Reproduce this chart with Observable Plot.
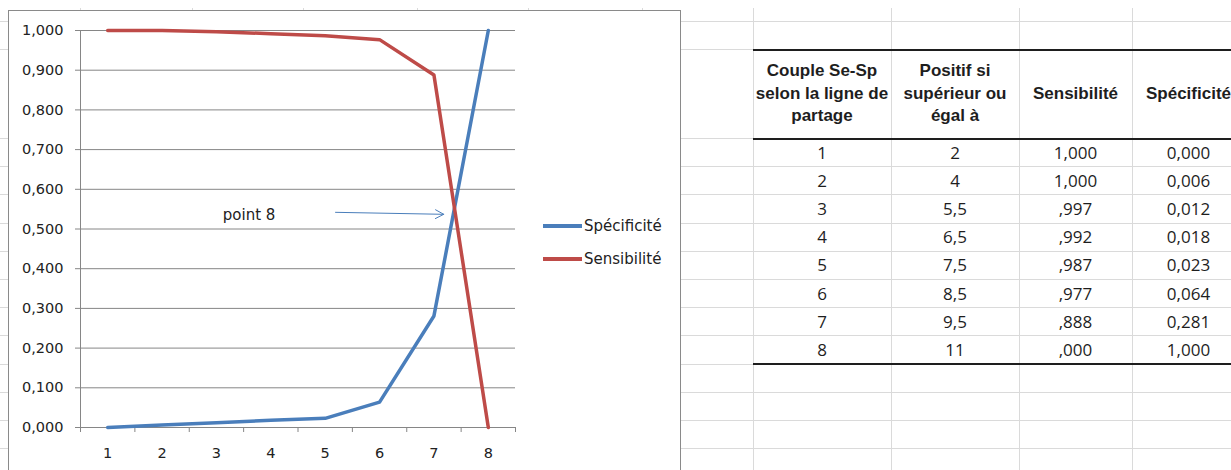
<!DOCTYPE html>
<html><head><meta charset="utf-8">
<script src="https://cdn.jsdelivr.net/npm/d3@7"></script>
<script src="https://cdn.jsdelivr.net/npm/@observablehq/plot@0.6"></script>
<style>
html,body{margin:0;padding:0;background:#fff;}
#root{position:relative;width:1231px;height:470px;overflow:hidden;background:#fff;}
.vl{position:absolute;width:1px;background:#dadada;}
.hl{position:absolute;height:1px;background:#dadada;}
.thick{position:absolute;height:2px;background:#1e1e1e;}
.cell{position:absolute;display:flex;flex-direction:column;align-items:center;justify-content:center;text-align:center;color:#1e1e1e;white-space:nowrap;}
.hdr{font-family:"Liberation Sans",Arial,sans-serif;font-weight:bold;font-size:17px;line-height:22.5px;}
.val{font-family:"Open Sans",sans-serif;font-size:17px;}
#chartbox{position:absolute;left:8px;top:10px;width:671px;height:460px;border:1px solid #8a8a8a;background:#fff;}
.lg-line{position:absolute;height:4px;}
.lg-text{position:absolute;font-family:"DejaVu Sans",sans-serif;font-size:15px;color:#222;line-height:18px;}
</style></head><body><div id="root"></div>
<script>
// ---- data ----
const couples = [1, 2, 3, 4, 5, 6, 7, 8];
const seuils = ["2", "4", "5,5", "6,5", "7,5", "8,5", "9,5", "11"];
const sensibilite = [1.000, 1.000, 0.997, 0.992, 0.987, 0.977, 0.888, 0.000];
const specificite = [0.000, 0.006, 0.012, 0.018, 0.023, 0.064, 0.281, 1.000];
const headerLines = [["Couple Se-Sp", "selon la ligne de", "partage"], ["Positif si", "supérieur ou", "égal à"], ["Sensibilité"], ["Spécificité"]];
const yTicks = [0, 0.1, 0.2, 0.3, 0.4, 0.5, 0.6, 0.7, 0.8, 0.9, 1.0];
const seriesNames = ["Spécificité", "Sensibilité"];
const seriesColors = ["#4a7ebb", "#be4b48"];
const annotationText = [{label: "point 8", x: 3.6, y: 0.535}];
const annotationArrow = [{x1: 5.19, y1: 0.542, x2: 7.18, y2: 0.537}];

// ---- layout ----
const root = document.getElementById("root");
const colEdges = [-32, 80, 192, 303, 417, 528, 642, 753, 891, 1019, 1132, 1245];
const rowH = 28.2;
const rowEdges = [-8, 20.5, 49];
for (let k = 0; k <= 12; k++) rowEdges.push(138 + rowH * k);

function add(cls, style, html) {
  const d = document.createElement("div");
  d.className = cls;
  Object.assign(d.style, style);
  if (html !== undefined) d.innerHTML = html;
  root.appendChild(d);
  return d;
}
for (const x of colEdges) add("vl", {left: x + "px", top: "8px", height: "470px"});
for (const y of rowEdges) add("hl", {left: "0px", top: y + "px", width: "1231px"});

// table thick borders
for (const y of [49, 138, 138 + rowH * 8]) add("thick", {left: "753px", top: (y - 0.5) + "px", width: "478px"});

// header
const tcols = colEdges.slice(7);
headerLines.forEach((lines, j) => {
  add("cell hdr", {left: tcols[j] + "px", width: (tcols[j + 1] - tcols[j]) + "px", top: "50px", height: "88px"},
      lines.map(l => `<span>${l}</span>`).join(""));
});
const fmtSens = v => v >= 1 ? d3.format(".3f")(v).replace(".", ",") : "," + d3.format(".3f")(v).split(".")[1];
const fmt3 = v => d3.format(".3f")(v).replace(".", ",");
couples.forEach((c, i) => {
  const vals = [String(c), seuils[i], fmtSens(sensibilite[i]), fmt3(specificite[i])];
  vals.forEach((v, j) => {
    add("cell val", {left: tcols[j] + "px", width: (tcols[j + 1] - tcols[j]) + "px", top: (138 + rowH * i) + "px", height: rowH + "px"}, v);
  });
});

// chart
const box = add("", {}, "");
box.id = "chartbox";
const long = seriesNames.flatMap((name, k) => couples.map((c, i) => ({c, name, v: k === 0 ? specificite[i] : sensibilite[i]})));
const chart = Plot.plot({
  width: 671, height: 460,
  marginLeft: 71, marginRight: 165, marginTop: 19, marginBottom: 44,
  style: {fontFamily: "DejaVu Sans, sans-serif", fontSize: "14.5px", color: "#222", background: "#fff"},
  x: {type: "linear", domain: [0.5, 8.5]},
  y: {domain: [0, 1]},
  color: {domain: seriesNames, range: seriesColors},
  marks: [
    Plot.gridY(yTicks.filter(d => d > 0), {stroke: "#868686", strokeOpacity: 1}),
    Plot.ruleX([0.5], {stroke: "#868686"}),
    Plot.ruleY([0], {stroke: "#868686"}),
    Plot.axisY(yTicks, {tickSize: 5, tickPadding: 12, tickFormat: fmt3, stroke: "#868686", fill: "#222", label: null}),
    Plot.axisX(d3.range(0.5, 9, 1), {tickSize: 5, tickFormat: () => "", stroke: "#868686", label: null}),
    Plot.axisX(couples, {tickSize: 0, tickPadding: 20, tickFormat: d => String(d), fill: "#222", label: null}),
    Plot.lineY(long, {x: "c", y: "v", z: "name", stroke: "name", strokeWidth: 3.5}),
    Plot.text(annotationText, {x: "x", y: "y", text: "label", fontSize: 15, fill: "#222"}),
    Plot.arrow(annotationArrow, {x1: "x1", y1: "y1", x2: "x2", y2: "y2", stroke: "#4a7ebb", strokeWidth: 1, headLength: 14, headAngle: 56})
  ]
});
box.appendChild(chart);

// legend
const legendTops = [226, 259];
seriesNames.forEach((name, k) => {
  add("lg-line", {left: "543px", top: (legendTops[k] - 2) + "px", width: "39px", background: seriesColors[k]});
  add("lg-text", {left: "584px", top: (legendTops[k] - 9) + "px"}, name);
});
</script></body></html>
